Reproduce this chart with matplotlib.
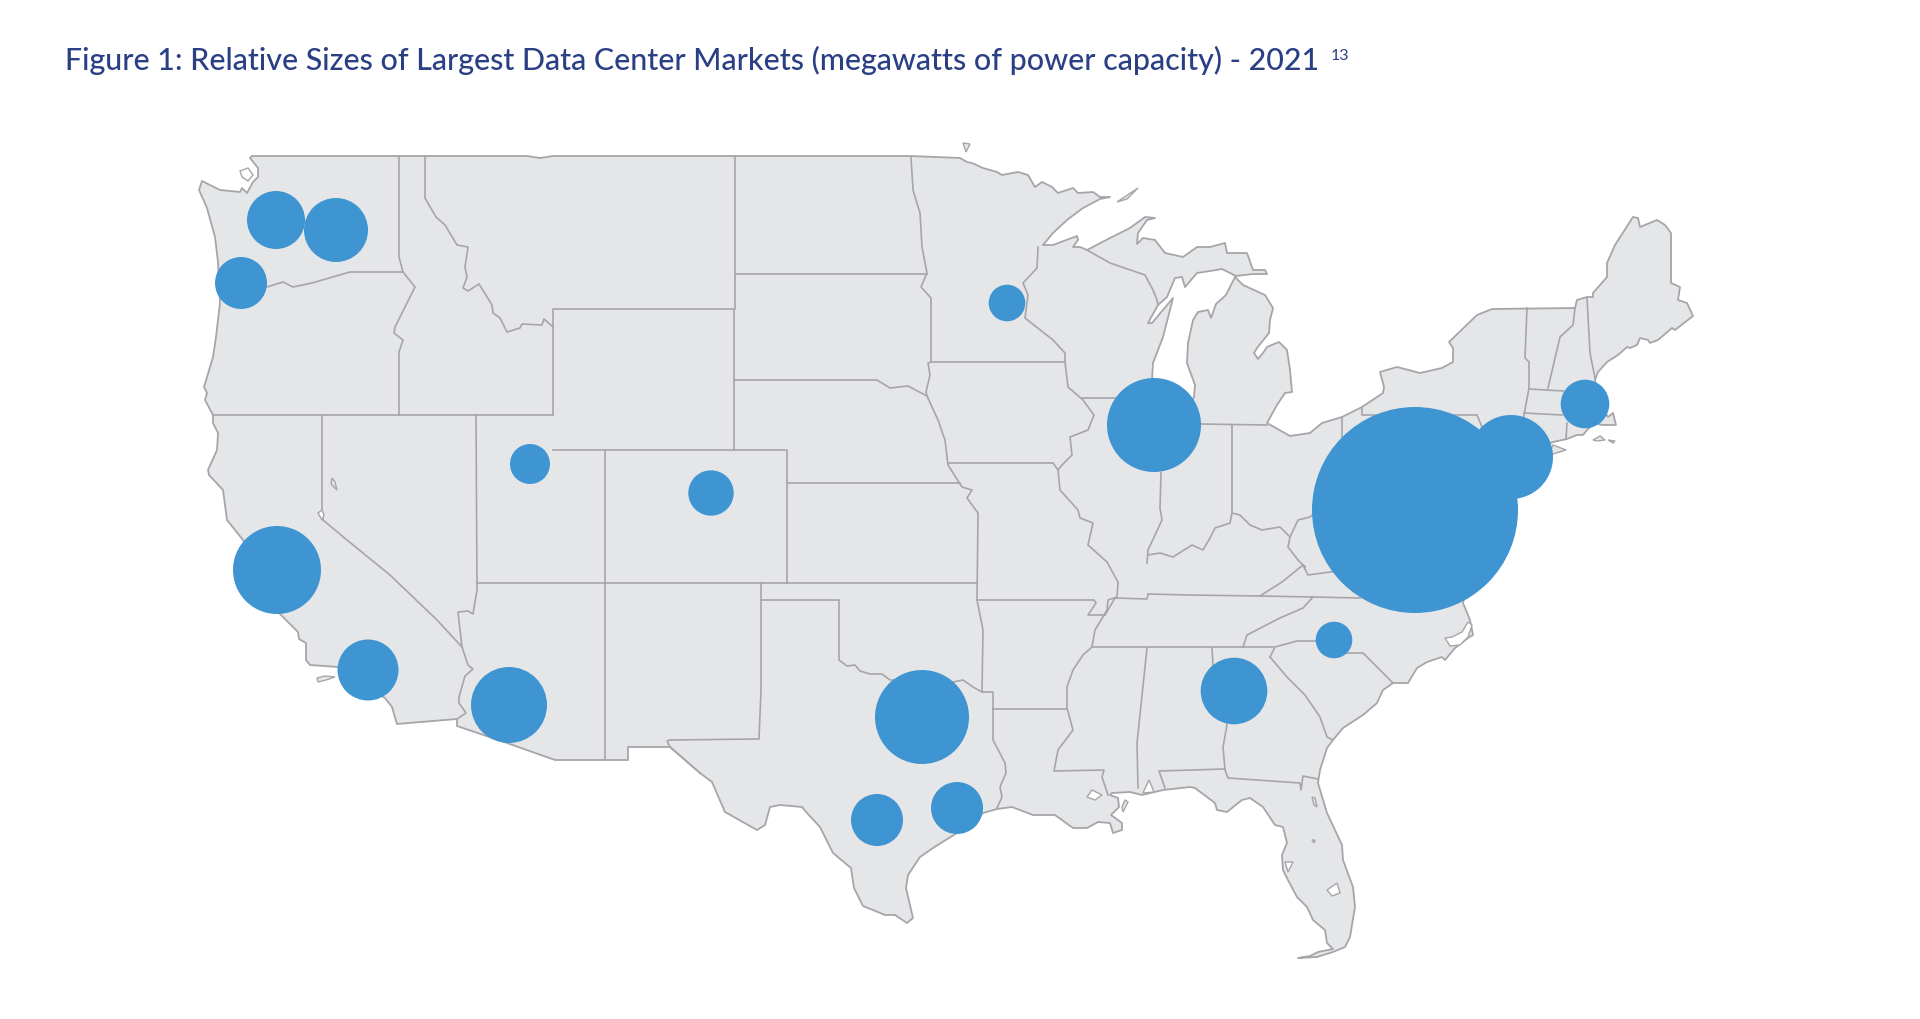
import matplotlib
matplotlib.use('Agg')
import matplotlib.pyplot as plt
from matplotlib.patches import Circle

# bubble positions and radii
bubble_x = [276, 336, 241, 530, 277, 368, 509, 711, 1007, 1154, 922, 877, 957, 1234, 1334, 1585, 1511, 1415]
bubble_y = [220, 230, 283, 464, 570, 670, 705, 493, 303, 425, 717, 820, 808, 691, 640, 404, 457, 510]
bubble_r = [29, 32, 26, 20, 44, 30.5, 38, 22.7, 18.3, 47, 47, 26, 26, 33.3, 18.3, 24.3, 42, 103]

# coastline, clockwise from the north west corner
north_border = [(252, 156), (527, 156), (540, 158), (553, 156), (911, 156), (960, 158)]
lake_superior = [(967, 162), (972, 163), (983, 168), (997, 172), (1002, 175), (1018, 172), (1028, 175),
                 (1035, 187), (1042, 182), (1052, 187), (1058, 193), (1073, 188), (1078, 193), (1093, 192),
                 (1100, 197), (1110, 197), (1100, 199), (1083, 208), (1067, 220), (1053, 233), (1043, 245),
                 (1053, 245), (1077, 236), (1078, 240), (1073, 247), (1080, 247), (1087, 250), (1110, 238),
                 (1130, 228), (1145, 217), (1155, 218), (1147, 220), (1138, 233), (1137, 244), (1143, 238),
                 (1155, 240), (1165, 253), (1183, 257), (1197, 247), (1210, 247), (1225, 243), (1227, 253),
                 (1247, 253), (1253, 270), (1265, 270), (1267, 274), (1253, 274), (1236, 276)]
lake_michigan = [(1222, 269), (1210, 271), (1197, 273), (1185, 287), (1182, 277), (1175, 278), (1167, 297),
                 (1158, 305), (1148, 323), (1152, 323), (1173, 298), (1163, 337), (1153, 363), (1152, 380),
                 (1170, 400), (1190, 405), (1194, 397), (1195, 385), (1187, 363), (1188, 343), (1193, 320),
                 (1198, 312), (1208, 310), (1211, 318), (1216, 304), (1226, 295), (1232, 283), (1235, 277)]
lakes_east = [(1243, 285), (1265, 295), (1273, 308), (1270, 320), (1269, 333), (1257, 348), (1254, 353),
              (1258, 359), (1263, 353), (1267, 347), (1279, 342), (1287, 350), (1290, 370), (1292, 392),
              (1285, 393), (1277, 405), (1267, 423), (1290, 436), (1310, 433), (1322, 423), (1342, 417),
              (1362, 407), (1383, 393), (1384, 387), (1380, 372), (1397, 367), (1420, 373), (1442, 368),
              (1453, 362), (1453, 348), (1449, 342), (1477, 315), (1492, 309), (1575, 308), (1577, 300),
              (1587, 297), (1593, 297), (1593, 293), (1607, 277), (1607, 263), (1615, 245), (1633, 217),
              (1638, 218), (1640, 227), (1657, 220), (1665, 225), (1671, 233), (1671, 283), (1680, 287),
              (1678, 300), (1687, 303), (1693, 316)]
atlantic = [(1675, 330), (1672, 328), (1658, 340), (1650, 343), (1648, 340), (1640, 338), (1637, 345),
            (1630, 348), (1627, 347), (1618, 355), (1607, 362), (1598, 372), (1595, 380), (1600, 405),
            (1608, 417), (1613, 413), (1616, 425), (1602, 425), (1595, 423), (1587, 430), (1583, 435),
            (1577, 435), (1567, 439), (1553, 442), (1510, 460), (1490, 490), (1480, 540), (1463, 603),
            (1470, 620), (1473, 635), (1468, 638), (1455, 648), (1445, 660), (1442, 657), (1427, 662),
            (1417, 668), (1408, 683), (1393, 683), (1383, 690), (1377, 703), (1363, 715), (1343, 728),
            (1333, 740), (1327, 748), (1320, 770), (1318, 783)]
florida = [(1327, 813), (1342, 845), (1343, 860), (1353, 887), (1355, 907), (1350, 937), (1345, 947),
           (1333, 952), (1317, 957), (1298, 958), (1310, 956), (1318, 952), (1333, 949), (1327, 943),
           (1325, 930), (1313, 920), (1307, 907), (1297, 897), (1288, 880), (1283, 870), (1282, 855),
           (1287, 843), (1283, 827), (1275, 825), (1263, 807), (1250, 798), (1242, 800), (1227, 812),
           (1217, 810), (1215, 803), (1195, 788), (1190, 787), (1163, 790), (1142, 795)]
gulf = [(1130, 792), (1112, 793), (1110, 795), (1118, 798), (1119, 807), (1111, 815), (1122, 823), (1122, 830),
        (1113, 833), (1110, 823), (1098, 822), (1087, 828), (1073, 828), (1055, 815), (1047, 815), (1033, 815),
        (1012, 807), (997, 809), (983, 813), (957, 833), (933, 848), (920, 857), (908, 875), (906, 888),
        (913, 918), (907, 923), (895, 915), (885, 915), (863, 906), (854, 888), (851, 868), (833, 853),
        (820, 827), (807, 813), (802, 807), (780, 805), (770, 807), (765, 825), (757, 830), (725, 812),
        (712, 782), (700, 773)]
mexico_border = [(670, 747), (628, 747), (628, 760), (555, 760), (507, 743), (457, 726), (457, 719), (397, 724)]
pacific = [(392, 707), (385, 698), (338, 667), (310, 665), (306, 660), (306, 643), (299, 639), (298, 632),
           (280, 614), (243, 540), (227, 520), (223, 490), (209, 475), (208, 470), (217, 450), (218, 433),
           (213, 423), (213, 415), (205, 400), (207, 393), (204, 387), (213, 357), (216, 337), (220, 303),
           (218, 262), (215, 237), (207, 208), (199, 190), (202, 181), (220, 190), (240, 192), (242, 188),
           (247, 193), (253, 182), (258, 177), (258, 168), (250, 158)]
coast_parts = [north_border, lake_superior, lake_michigan, lakes_east, atlantic, florida, gulf, mexico_border, pacific]

# inner state lines
state_lines = [
    [(399, 156), (399, 257), (403, 272), (415, 287), (395, 327), (394, 333), (403, 340), (399, 352), (399, 415)],
    [(403, 272), (350, 272), (312, 283), (293, 287), (283, 282), (267, 287), (220, 297)],
    [(425, 156), (425, 198), (436, 217), (445, 225), (457, 245), (468, 247), (465, 267), (467, 277), (463, 288),
     (468, 291), (479, 284), (492, 305), (493, 313), (500, 318), (507, 332), (520, 328), (522, 324), (542, 325),
     (544, 319), (553, 327)],
    [(735, 156), (735, 309)],
    [(553, 415), (553, 309), (734, 309), (734, 450)],
    [(553, 450), (787, 450), (787, 583)],
    [(605, 450), (605, 760)],
    [(213, 415), (553, 415)],
    [(476, 415), (477, 590), (473, 614), (468, 611), (458, 612), (462, 647), (468, 665), (473, 669), (465, 676),
     (459, 697), (459, 703), (466, 713), (457, 719)],
    [(322, 415), (322, 510), (323, 520), (347, 540), (390, 575), (437, 620), (462, 647)],
    [(477, 583), (977, 583)],
    [(761, 583), (761, 690), (759, 739), (670, 740), (667, 741), (670, 747), (700, 773)],
    [(762, 600), (839, 600), (839, 660), (847, 666), (855, 665), (860, 671), (870, 674), (882, 674), (890, 680),
     (953, 682), (963, 680), (973, 687), (982, 692), (993, 692), (993, 740), (1005, 763), (1006, 773), (1000, 787),
     (1002, 797), (997, 808)],
    [(787, 483), (960, 483)],
    [(734, 380), (877, 380), (890, 388), (908, 386), (927, 396), (938, 420), (945, 440), (948, 465), (962, 487),
     (972, 490), (967, 498), (978, 513), (977, 600), (983, 630), (982, 692)],
    [(735, 274), (927, 274)],
    [(911, 157), (913, 190), (920, 213), (922, 247), (927, 273), (921, 287), (931, 298), (931, 362), (928, 363),
     (930, 375), (926, 392), (927, 396)],
    [(931, 362), (1065, 362)],
    [(1038, 247), (1037, 268), (1023, 283), (1028, 295), (1025, 318), (1053, 340), (1065, 353), (1065, 362),
     (1068, 387), (1083, 400), (1094, 415), (1088, 430), (1070, 437), (1072, 455), (1062, 465), (1058, 470),
     (1060, 490), (1078, 510), (1080, 518), (1093, 523), (1088, 545), (1107, 562), (1113, 573), (1118, 582),
     (1117, 597), (1108, 600), (1107, 610), (1095, 630), (1092, 647), (1083, 655), (1073, 670), (1067, 687),
     (1067, 708), (1073, 730), (1058, 750), (1054, 771), (1104, 770), (1102, 777), (1108, 795)],
    [(948, 463), (1053, 463), (1058, 470)],
    [(1082, 398), (1115, 398)],
    [(1087, 250), (1110, 263), (1145, 275), (1153, 290), (1157, 300), (1158, 305)],
    [(1161, 473), (1160, 508), (1162, 520), (1148, 550), (1147, 563)],
    [(1148, 555), (1160, 553), (1173, 557), (1192, 545), (1203, 550), (1210, 538), (1215, 528), (1230, 523),
     (1232, 513), (1240, 515), (1250, 525), (1262, 530), (1280, 527), (1290, 537), (1298, 520), (1310, 517),
     (1330, 500)],
    [(1232, 425), (1232, 513)],
    [(1200, 424), (1267, 425)],
    [(1342, 417), (1342, 438)],
    [(1362, 407), (1362, 415), (1477, 415), (1482, 427)],
    [(1527, 308), (1525, 358), (1529, 362), (1529, 388), (1524, 415), (1520, 440)],
    [(1529, 389), (1563, 391)],
    [(1524, 413), (1562, 415)],
    [(1567, 423), (1566, 439)],
    [(1575, 308), (1573, 325), (1560, 337), (1548, 388)],
    [(1587, 298), (1590, 353), (1595, 378)],
    [(978, 600), (1094, 600), (1096, 603), (1088, 615), (1105, 615)],
    [(1105, 615), (1115, 598), (1147, 599), (1148, 594), (1188, 595), (1260, 596), (1312, 597), (1360, 598)],
    [(993, 709), (1067, 709)],
    [(1092, 647), (1273, 647)],
    [(1147, 648), (1137, 743), (1138, 788)],
    [(1212, 648), (1213, 665), (1227, 725), (1223, 747), (1225, 770), (1228, 778), (1300, 783), (1301, 790),
     (1303, 776), (1318, 779)],
    [(1225, 769), (1159, 771), (1165, 788)],
    [(1243, 647), (1247, 635), (1280, 618), (1303, 608), (1313, 597)],
    [(1270, 657), (1287, 677), (1305, 695), (1320, 717), (1327, 737), (1333, 740)],
    [(1270, 657), (1275, 647), (1297, 641), (1315, 641), (1342, 653), (1363, 653), (1393, 683)],
    [(1260, 596), (1282, 582), (1303, 565), (1305, 567), (1298, 560), (1288, 547), (1290, 537)],
    [(1303, 565), (1308, 575), (1330, 572), (1345, 570)],
]

# lakes and sounds, white with an outline
water_holes = [
    [(240, 171), (248, 168), (253, 175), (248, 181), (242, 177)],
    [(318, 513), (322, 510), (324, 515), (322, 520)],
    [(1327, 890), (1337, 883), (1340, 893), (1332, 896)],
    [(1285, 862), (1293, 862), (1288, 872)],
    [(1445, 638), (1450, 646), (1460, 645), (1468, 637), (1472, 625), (1468, 622), (1462, 632), (1452, 637)],
    [(1143, 793), (1149, 780), (1154, 792)],
    [(1087, 797), (1092, 790), (1102, 795), (1095, 800)],
]
# islands and small outlined spots
small_shapes = [
    [(963, 143), (970, 144), (966, 152)],
    [(1117, 202), (1138, 188), (1127, 199)],
    [(332, 478), (335, 482), (337, 490), (331, 484)],
    [(317, 678), (325, 676), (335, 677), (326, 680), (318, 682)],
    [(1123, 812), (1128, 802), (1125, 800), (1122, 807)],
    [(1553, 445), (1566, 450), (1553, 454), (1548, 456)],
    [(1593, 440), (1600, 436), (1605, 440), (1597, 441)],
    [(1608, 440), (1615, 441), (1613, 443)],
    [(1312, 797), (1315, 798), (1317, 807), (1314, 805)],
    [(1312, 840), (1315, 840), (1314, 843)],
]

title = 'Figure 1: Relative Sizes of Largest Data Center Markets (megawatts of power capacity) - 2021'
footnote = '13'

land_color = '#e5e6e8'
line_color = '#a6a6aa'
bubble_color = '#3f94d2'
title_color = '#2b3f85'

fig = plt.figure(figsize=(19.2, 10.19), dpi=100)
ax = fig.add_axes([0, 0, 1, 1])
ax.set_xlim(0, 1920)
ax.set_ylim(1019, 0)
ax.axis('off')

coast = [p for part in coast_parts for p in part]
ax.fill([p[0] for p in coast], [p[1] for p in coast], facecolor=land_color, edgecolor=line_color,
        linewidth=1.3, joinstyle='round', zorder=1)

for line in state_lines:
    ax.plot([p[0] for p in line], [p[1] for p in line], color=line_color, linewidth=1.2,
            solid_joinstyle='round', zorder=2)

for shape in water_holes:
    ax.fill([p[0] for p in shape], [p[1] for p in shape], facecolor='white', edgecolor=line_color,
            linewidth=1.0, zorder=3)
for shape in small_shapes:
    ax.fill([p[0] for p in shape], [p[1] for p in shape], facecolor=land_color, edgecolor=line_color,
            linewidth=1.0, zorder=3)

for x, y, r in zip(bubble_x, bubble_y, bubble_r):
    ax.add_patch(Circle((x, y), r, facecolor=bubble_color, edgecolor='none', zorder=4))

ax.text(65, 70, title, color=title_color, fontsize=21.9, family='Lato', weight='medium', va='baseline', ha='left')
ax.text(1331, 60, footnote, color=title_color, fontsize=11.5, family='Lato', va='baseline', ha='left')

fig.savefig('out.png', dpi=100, facecolor='white')
